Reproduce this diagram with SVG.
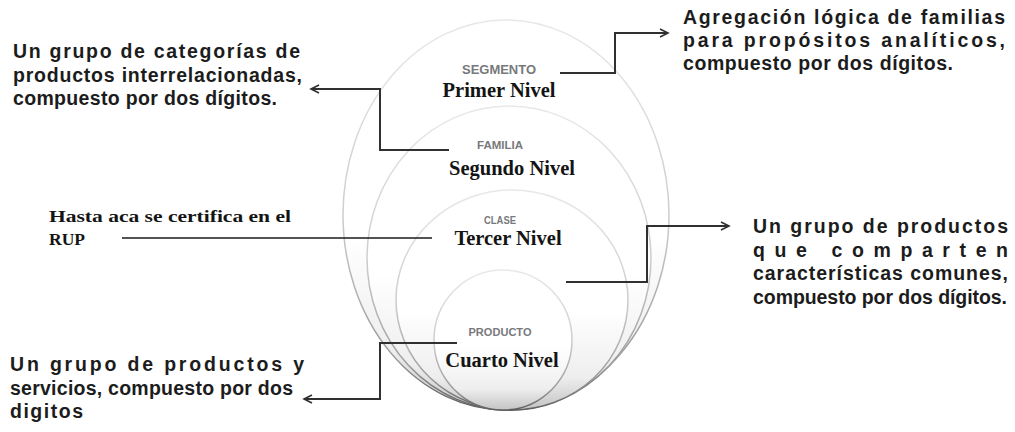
<svg xmlns="http://www.w3.org/2000/svg" width="1015" height="432" viewBox="0 0 1015 432">
<style>
.bg{fill:#ffffff}
.ell{stroke:url(#edge);stroke-width:1.5}
.cap{font-family:"Liberation Sans",Arial,sans-serif;font-weight:bold;fill:#77797c;text-anchor:middle}
.lvl{font-family:"Liberation Serif","Times New Roman",serif;font-weight:bold;font-size:20.5px;fill:#141414;text-anchor:middle}
.desc{font-family:"Liberation Sans",Arial,sans-serif;font-weight:bold;font-size:19.5px;fill:#1c1c1c}
.note{font-family:"Liberation Serif","Times New Roman",serif;font-weight:bold;font-size:17.5px;fill:#141414}
.conn{fill:none;stroke:#303030;stroke-width:2}
.thin{fill:none;stroke:#1a1a1a;stroke-width:1.5}
</style>
<defs>
<linearGradient id="fillg" x1="0" y1="0" x2="0" y2="1">
<stop offset="0" stop-color="#ffffff"/>
<stop offset="0.55" stop-color="#ffffff"/>
<stop offset="0.85" stop-color="#eeeeee"/>
<stop offset="1" stop-color="#c4c4c4"/>
</linearGradient>
<linearGradient id="edge" x1="0" y1="0" x2="0" y2="1">
<stop offset="0" stop-color="#e8e8e8"/>
<stop offset="0.5" stop-color="#cdcdcd"/>
<stop offset="0.85" stop-color="#9c9c9c"/>
<stop offset="1" stop-color="#5f5f5f"/>
</linearGradient>
<marker id="arr" markerUnits="userSpaceOnUse" markerWidth="12" markerHeight="12" refX="9" refY="5" orient="auto">
<path d="M1,1 L9,5 L1,9" fill="none" stroke="#303030" stroke-width="1.6"/>
</marker>
</defs>
<rect class="bg" x="0" y="0" width="1015" height="432"/>

<g id="segmento">
<ellipse class="ell" cx="506" cy="215" rx="163" ry="195" fill="url(#fillg)"/>
<text class="cap" x="499" y="74" font-size="12" textLength="74" lengthAdjust="spacingAndGlyphs">SEGMENTO</text>
<text class="lvl" x="499" y="97">Primer Nivel</text>
</g>
<g id="familia">
<ellipse class="ell" cx="509" cy="258" rx="142" ry="152" fill="url(#fillg)"/>
<text class="cap" x="500" y="149" font-size="10.5" textLength="46" lengthAdjust="spacingAndGlyphs">FAMILIA</text>
<text class="lvl" x="512" y="175">Segundo Nivel</text>
</g>
<g id="clase">
<ellipse class="ell" cx="512" cy="300" rx="116" ry="110" fill="url(#fillg)"/>
<text class="cap" x="500" y="224" font-size="10" textLength="32" lengthAdjust="spacingAndGlyphs">CLASE</text>
<text class="lvl" x="508" y="245">Tercer Nivel</text>
</g>
<g id="producto">
<ellipse class="ell" cx="503" cy="340" rx="69" ry="70" fill="url(#fillg)"/>
<text class="cap" x="500" y="336" font-size="11" textLength="63" lengthAdjust="spacingAndGlyphs">PRODUCTO</text>
<text class="lvl" x="502" y="367">Cuarto Nivel</text>
</g>

<g id="desc-segmento">
<text class="desc" x="683" y="24" textLength="322" lengthAdjust="spacing">Agregación lógica de familias</text>
<text class="desc" x="683" y="47" textLength="322" lengthAdjust="spacing">para propósitos analíticos,</text>
<text class="desc" x="683" y="70" textLength="270" lengthAdjust="spacing">compuesto por dos dígitos.</text>
</g>
<g id="desc-familia">
<text class="desc" x="13" y="58" textLength="287" lengthAdjust="spacing">Un grupo de categorías de</text>
<text class="desc" x="13" y="82" textLength="289" lengthAdjust="spacing">productos interrelacionadas,</text>
<text class="desc" x="13" y="105" textLength="264" lengthAdjust="spacing">compuesto por dos dígitos.</text>
</g>
<g id="desc-clase">
<text class="desc" x="753" y="233" textLength="255" lengthAdjust="spacing">Un grupo de productos</text>
<text class="desc" x="753" y="257" textLength="255" lengthAdjust="spacing">que comparten</text>
<text class="desc" x="753" y="280" textLength="255" lengthAdjust="spacing">características comunes,</text>
<text class="desc" x="753" y="304" textLength="254" lengthAdjust="spacing">compuesto por dos dígitos.</text>
</g>
<g id="desc-producto">
<text class="desc" x="10" y="371" textLength="294" lengthAdjust="spacing">Un grupo de productos y</text>
<text class="desc" x="10" y="395" textLength="283" lengthAdjust="spacing">servicios, compuesto por dos</text>
<text class="desc" x="10" y="418" textLength="73" lengthAdjust="spacing">digitos</text>
</g>
<g id="nota-rup">
<text class="note" x="49" y="222" textLength="242" lengthAdjust="spacingAndGlyphs">Hasta aca se certifica en el</text>
<text class="note" x="49" y="245">RUP</text>
</g>

<g id="connectors">
<polyline class="conn" points="560,73 615,73 615,33 668,33" marker-end="url(#arr)"/>
<polyline class="conn" points="449,150 380,150 380,89 311,89" marker-end="url(#arr)"/>
<line class="thin" x1="122" y1="238" x2="432" y2="238"/>
<polyline class="conn" points="566,282 647,282 647,226 729,226" marker-end="url(#arr)"/>
<polyline class="conn" points="457,343 380,343 380,399 304,399" marker-end="url(#arr)"/>
</g>
</svg>
